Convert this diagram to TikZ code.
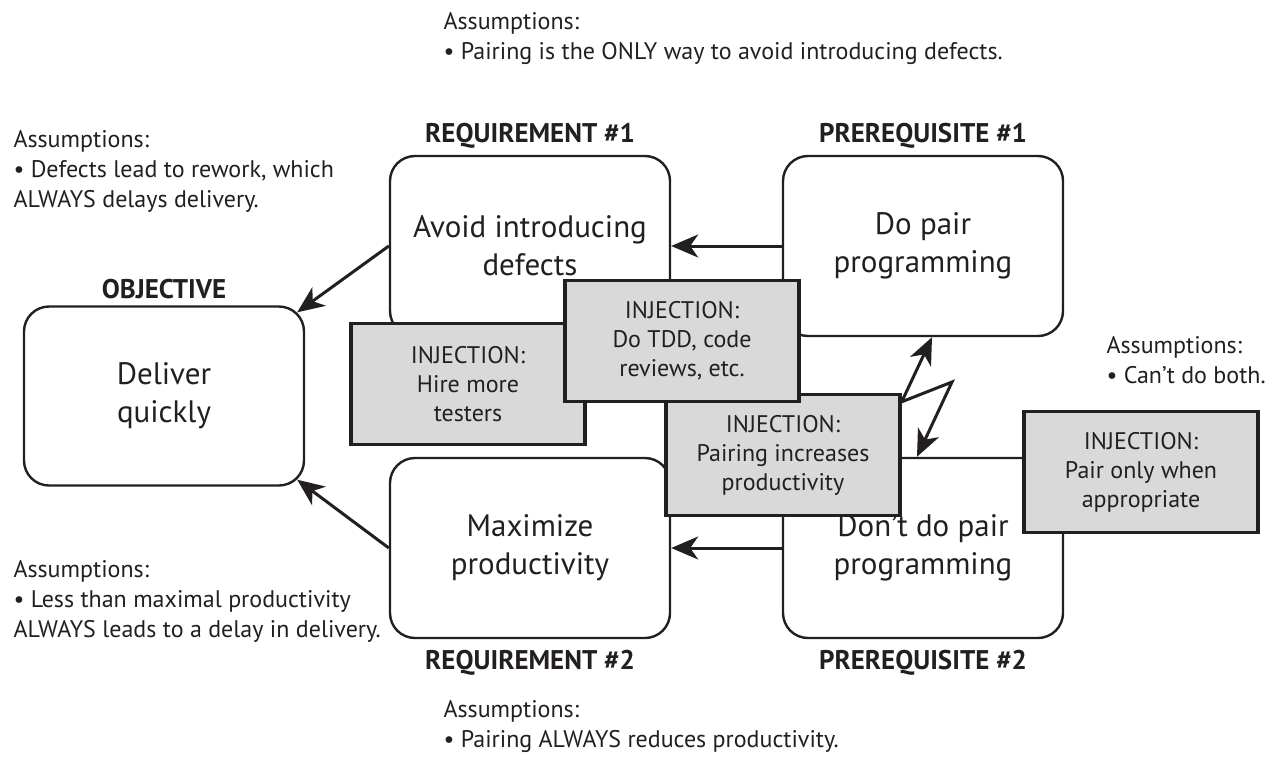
\documentclass[tikz,border=0pt]{standalone}
\usepackage{fontspec}
\setmainfont{PT Sans}
\usepackage{tikz}
\usetikzlibrary{arrows.meta,positioning,calc}

\definecolor{ink}{HTML}{231F20}
\definecolor{injfill}{HTML}{D9D9D9}

\begin{document}
\begin{tikzpicture}[x=1pt,y=-1pt,->,>={Stealth[length=27pt,width=23pt,inset=8pt]},
line width=3pt, color=ink, node distance=302pt]

\tikzstyle{goalbox}=[rectangle, rounded corners=25pt, minimum width=280pt,
minimum height=180pt, draw=ink, line width=2.4pt, fill=white, align=center,
font=\fontsize{31}{38}\selectfont]
\tikzstyle{inject}=[rectangle, minimum width=234pt, minimum height=121pt,
draw=ink, line width=3.4pt, fill=injfill, align=center,
font=\fontsize{24}{29}\selectfont]
\tikzstyle{heading}=[inner sep=0pt, font=\bfseries\fontsize{27}{32}\selectfont]
\tikzstyle{assume}=[inner sep=0pt, align=left, anchor=north west,
font=\fontsize{24}{30}\selectfont]

\useasboundingbox (0,0) rectangle (1281,774);

%requirements and prerequisites
\node[goalbox]
(creq1) at (530,246)
{Avoid introducing\\defects};

\node[goalbox]
(creq2) [below of=creq1]
{Maximize\\productivity};

\node[goalbox]
(cpre1) [right of=creq1, node distance=393pt]
{Do pair\\programming};

\node[goalbox]
(cpre2) [below of=cpre1]
{Don’t do pair\\programming};

%objective
\node[goalbox, minimum height=179pt]
(cobj) [left of=creq1, node distance=366pt, yshift=-150pt]
{Deliver\\quickly};

\node[heading] (hobj) [above=5pt of cobj] {OBJECTIVE};
\node[heading] (hreq1) [above=5pt of creq1] {REQUIREMENT \#1};
\node[heading] (hpre1) [above=5pt of cpre1] {PREREQUISITE \#1};
\node[heading] (hreq2) [below=10pt of creq2] {REQUIREMENT \#2};
\node[heading] (hpre2) [below=10pt of cpre2] {PREREQUISITE \#2};

\path[->] (cpre1) edge (creq1);
\path[->] (cpre2) edge (creq2);
\draw[->] (creq1.west) -- ($(cobj.north east)+(-8,7)$);
\draw[->] (creq2.west) -- ($(cobj.south east)+(-8,-7)$);

%injections
\node[inject] (ihire) at (468,384) {INJECTION:\\Hire more\\testers};
\node[inject] (ipinc) at (783,455) {INJECTION:\\Pairing increases\\productivity};
\node[inject] (itdd) at (682,341) {INJECTION:\\Do TDD, code\\reviews, etc.};
\node[inject] (ionly) at (1141,472) {INJECTION:\\Pair only when\\appropriate};

%conflict
\coordinate (zap) at ($(ipinc.north east)+(0,9)$);
\coordinate (zapknee) at (952,382);
\draw[->] (zap) -- ($(cpre1.south)+(9,0)$);
\draw[->] (zap) -- (zapknee) -- ($(cpre2.north)+(-6,0)$);

%assumptions
\node[assume] (atop) at (442,11)
{Assumptions:\\• Pairing is the ONLY way to avoid introducing defects.};
\node[assume] (aleft) at (12,129)
{Assumptions:\\• Defects lead to rework, which\\ALWAYS delays delivery.};
\node[assume] (aright) at (1105,335)
{Assumptions:\\• Can’t do both.};
\node[assume] (alow) at (12,559)
{Assumptions:\\• Less than maximal productivity\\ALWAYS leads to a delay in delivery.};
\node[assume] (abot) at (442,699)
{Assumptions:\\• Pairing ALWAYS reduces productivity.};

\end{tikzpicture}
\end{document}
